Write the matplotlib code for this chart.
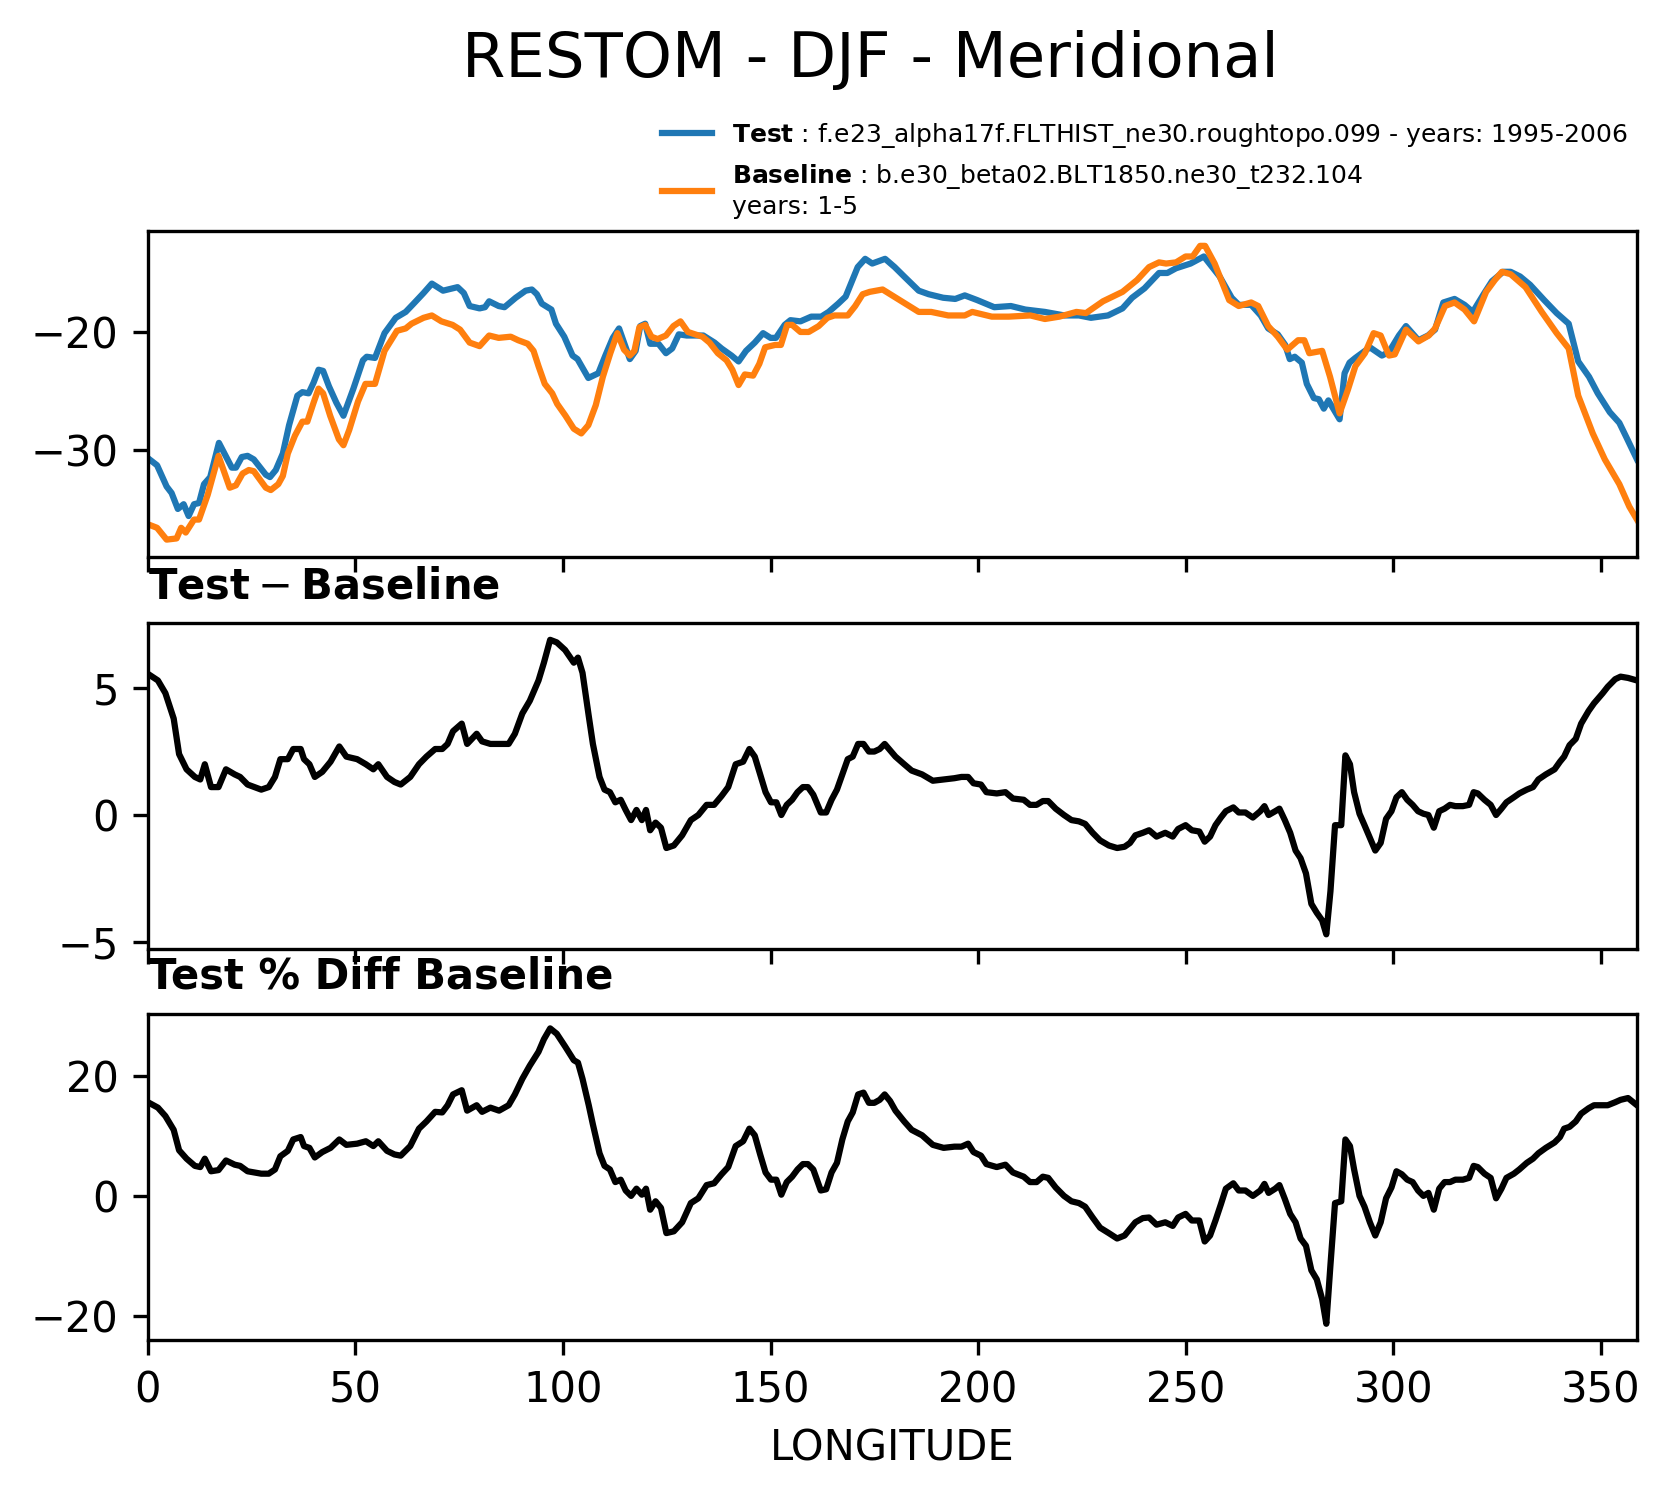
import matplotlib
matplotlib.use("Agg")
import matplotlib.pyplot as plt
import numpy as np

# --- data (longitude in degrees, RESTOM in W/m2) ---
test_lon = [0.0, 2.2, 4.5, 5.7, 7.2, 8.6, 9.8, 11.1, 12.3, 13.5, 15.0, 17.1, 20.2, 21.2, 22.6, 24.0, 25.5,
            28.4, 29.4, 30.8, 32.5, 34.0, 36.0, 37.2, 38.7, 39.9, 41.1, 42.2, 43.6, 45.4, 47.1, 49.5,
            51.8, 52.7, 54.7, 57.0, 59.7, 62.1, 64.0, 66.4, 68.4, 71.1, 74.6, 76.1, 77.5, 79.9, 81.2,
            82.2, 84.5, 85.9, 88.6, 91.0, 92.5, 93.7, 94.9, 97.2, 98.3, 100.3, 102.3, 103.5, 106.1,
            108.5, 110.2, 112.0, 113.5, 114.9, 116.1, 117.5, 118.6, 119.8, 121.0, 123.0, 124.8, 126.3,
            127.9, 129.8, 132.1, 133.8, 136.5, 138.2, 140.6, 142.3, 144.1, 146.2, 148.2, 150.0, 151.3,
            153.4, 154.8, 157.2, 159.8, 162.2, 164.0, 166.3, 168.1, 169.6, 171.0, 172.8, 174.5, 177.6,
            179.9, 182.2, 185.7, 188.1, 191.6, 194.5, 196.8, 199.8, 203.9, 207.9, 211.4, 216.1, 220.8,
            224.3, 227.2, 231.3, 234.8, 237.1, 240.1, 243.6, 245.6, 247.7, 251.2, 254.4, 258.2, 261.1,
            262.8, 265.8, 268.1, 269.9, 272.2, 274.0, 275.1, 276.3, 278.0, 279.2, 280.9, 282.1, 283.3,
            284.4, 287.1, 288.3, 289.5, 290.9, 294.4, 297.3, 299.0, 301.4, 303.1, 306.1, 308.4, 310.1,
            312.1, 314.8, 317.2, 319.2, 321.8, 323.8, 326.5, 328.3, 330.6, 333.0, 336.4, 339.4, 342.3,
            344.6, 347.2, 349.3, 352.2, 354.5, 356.3, 358.75]
test_val = [-30.7, -31.3, -33.1, -33.65, -35.0, -34.6, -35.6, -34.6, -34.5, -32.9, -32.3, -29.4, -31.5,
            -31.5, -30.6, -30.5, -30.8, -32.1, -32.3, -31.7, -30.3, -27.9, -25.4, -25.1, -25.2, -24.3,
            -23.2, -23.3, -24.6, -26.0, -27.1, -24.8, -22.4, -22.1, -22.2, -20.1, -18.8, -18.3, -17.6,
            -16.7, -15.9, -16.5, -16.2, -16.7, -17.8, -18.0, -17.9, -17.4, -17.8, -17.9, -17.1, -16.5,
            -16.4, -16.8, -17.6, -18.1, -19.3, -20.4, -22.0, -22.3, -23.9, -23.5, -22.0, -20.5, -19.7,
            -21.1, -22.3, -21.6, -19.5, -19.3, -21.0, -21.0, -21.8, -21.4, -20.2, -20.3, -20.3, -20.3,
            -20.9, -21.4, -22.0, -22.5, -21.6, -20.9, -20.1, -20.5, -20.5, -19.4, -19.0, -19.1, -18.7,
            -18.7, -18.3, -17.6, -17.0, -15.7, -14.5, -13.8, -14.2, -13.8, -14.5, -15.3, -16.5, -16.8,
            -17.1, -17.2, -16.9, -17.3, -17.9, -17.8, -18.1, -18.3, -18.6, -18.6, -18.8, -18.6, -18.0,
            -17.1, -16.3, -15.0, -15.0, -14.6, -14.2, -13.6, -15.3, -17.1, -17.7, -17.7, -18.6, -19.7,
            -20.2, -21.1, -22.3, -22.1, -22.6, -24.4, -25.6, -25.7, -26.5, -25.8, -27.4, -23.5, -22.6,
            -22.2, -21.3, -22.0, -21.7, -20.3, -19.5, -20.7, -20.3, -19.8, -17.5, -17.2, -17.7, -18.3,
            -16.8, -15.7, -14.9, -14.9, -15.3, -16.0, -17.3, -18.4, -19.3, -22.5, -23.8, -25.2, -26.8,
            -27.7, -29.0, -30.8]

base_lon = [0.0, 2.2, 4.5, 6.9, 8.0, 9.1, 11.1, 12.3, 14.4, 17.0, 19.7, 21.2, 22.8, 24.3, 25.5, 28.4,
            29.6, 31.4, 32.5, 33.7, 35.4, 37.2, 38.4, 39.9, 41.1, 42.2, 43.9, 46.0, 47.1, 48.5, 50.6,
            52.4, 54.7, 57.0, 60.0, 62.1, 63.5, 66.4, 68.4, 70.7, 73.4, 75.2, 77.5, 79.9, 82.2, 84.5,
            87.4, 89.2, 91.5, 92.9, 94.1, 95.6, 97.4, 98.6, 100.6, 102.6, 104.4, 106.1, 107.9, 109.6,
            111.4, 113.1, 114.7, 116.1, 117.2, 118.4, 119.8, 121.3, 122.8, 124.8, 126.6, 128.3, 130.1,
            131.8, 133.6, 135.3, 137.3, 139.4, 140.8, 142.3, 143.8, 145.8, 147.3, 148.7, 151.1, 152.5,
            154.0, 155.2, 157.2, 159.2, 161.6, 163.7, 165.4, 168.6, 170.4, 172.2, 173.9, 177.0, 181.1,
            185.7, 188.7, 192.8, 196.8, 198.6, 203.3, 207.4, 212.6, 216.1, 219.6, 223.7, 226.0, 230.1,
            234.8, 238.3, 241.2, 243.6, 245.3, 247.7, 250.0, 251.7, 253.5, 254.7, 257.0, 260.5, 262.8,
            265.8, 267.5, 269.9, 272.2, 274.5, 277.1, 278.6, 279.8, 282.9, 284.8, 287.1, 289.1, 290.9,
            293.2, 295.3, 297.0, 299.0, 300.4, 303.1, 306.1, 308.6, 310.1, 312.5, 314.8, 317.2, 319.5,
            322.4, 324.5, 326.2, 328.3, 331.9, 335.8, 339.4, 342.3, 344.6, 348.1, 351.0, 354.5, 356.9,
            358.75]
base_val = [-36.3, -36.6, -37.6, -37.5, -36.6, -37.0, -35.9, -35.9, -33.8, -30.5, -33.2, -33.0, -32.0,
            -31.7, -31.8, -33.2, -33.4, -32.9, -32.2, -30.3, -28.8, -27.6, -27.6, -26.0, -24.8, -25.2,
            -27.1, -29.1, -29.6, -28.3, -25.9, -24.4, -24.4, -21.6, -19.9, -19.7, -19.3, -18.8, -18.6,
            -19.1, -19.4, -19.8, -20.9, -21.2, -20.3, -20.5, -20.4, -20.7, -21.0, -21.6, -22.9, -24.4,
            -25.2, -26.1, -27.1, -28.2, -28.6, -27.9, -26.2, -23.8, -21.8, -20.1, -21.5, -22.0, -21.6,
            -19.6, -19.4, -20.4, -20.6, -20.3, -19.5, -19.1, -20.0, -20.2, -20.4, -20.9, -21.8, -22.4,
            -23.2, -24.5, -23.6, -23.7, -22.7, -21.3, -21.1, -21.1, -19.4, -19.4, -20.0, -20.0, -19.5,
            -18.8, -18.6, -18.6, -17.8, -16.8, -16.6, -16.4, -17.3, -18.3, -18.3, -18.6, -18.6, -18.3,
            -18.7, -18.7, -18.6, -18.9, -18.7, -18.3, -18.4, -17.4, -16.6, -15.6, -14.5, -14.1, -14.2,
            -14.1, -13.6, -13.6, -12.7, -12.7, -14.2, -17.3, -17.8, -17.5, -17.8, -19.5, -20.4, -21.5,
            -20.7, -20.7, -21.8, -21.6, -23.8, -26.9, -24.9, -22.9, -21.8, -20.1, -20.3, -22.0, -21.9,
            -19.8, -20.8, -20.3, -19.7, -17.8, -17.5, -18.1, -19.1, -16.6, -15.6, -14.9, -15.1, -16.2,
            -18.3, -20.1, -21.4, -25.4, -28.6, -30.8, -32.9, -34.8, -35.9]

diff_lon = [0.0, 2.4, 4.2, 6.2, 7.5, 9.3, 11.3, 12.6, 13.7, 15.2, 17.0, 18.8, 20.9, 22.2, 24.0, 27.3,
            29.1, 30.6, 31.9, 33.7, 35.0, 36.8, 37.6, 38.9, 40.2, 42.0, 44.0, 46.1, 47.8, 50.4, 52.5,
            54.3, 55.5, 57.6, 59.4, 60.9, 63.2, 65.3, 67.1, 69.2, 70.9, 72.2, 73.5, 75.6, 76.9, 79.2,
            80.5, 82.5, 84.6, 86.9, 88.4, 90.2, 92.0, 94.1, 95.4, 96.9, 98.5, 100.5, 102.6, 103.6,
            104.7, 106.2, 107.2, 108.8, 110.0, 111.3, 112.6, 113.9, 115.1, 116.4, 117.7, 119.0, 120.0,
            121.0, 122.3, 123.6, 124.9, 126.7, 128.7, 130.8, 132.6, 134.6, 136.4, 138.2, 139.8, 141.6,
            143.4, 144.9, 146.2, 147.5, 148.8, 150.1, 151.4, 152.6, 153.9, 155.2, 156.5, 157.8, 159.0,
            160.3, 162.1, 163.4, 164.7, 166.0, 167.3, 168.6, 169.8, 171.1, 172.4, 173.7, 175.0, 176.3,
            177.5, 178.8, 180.1, 182.2, 184.0, 186.5, 189.1, 191.7, 194.3, 196.0, 197.6, 198.9, 200.7,
            202.0, 204.5, 206.6, 208.4, 211.0, 212.5, 214.1, 215.6, 216.9, 218.7, 220.7, 222.5, 224.3,
            225.8, 227.6, 229.4, 231.5, 233.5, 235.3, 236.6, 237.9, 239.7, 241.2, 243.0, 245.1, 246.9,
            248.2, 250.0, 251.5, 253.3, 254.6, 255.9, 257.2, 258.5, 259.7, 261.5, 262.8, 264.4, 266.2,
            268.0, 269.0, 270.0, 271.6, 272.6, 273.9, 275.2, 276.5, 277.7, 279.0, 280.3, 281.6, 282.9,
            283.9, 284.9, 286.0, 287.5, 288.5, 289.6, 290.6, 291.9, 293.1, 294.4, 295.7, 297.0, 298.3,
            299.6, 300.8, 302.1, 303.4, 304.7, 306.0, 307.3, 308.5, 309.8, 311.1, 312.4, 313.7, 315.0,
            316.8, 318.3, 319.4, 320.4, 322.0, 323.5, 324.8, 326.1, 327.3, 329.1, 330.4, 332.2, 333.7,
            335.0, 336.8, 338.9, 340.2, 341.2, 342.5, 344.0, 345.3, 347.1, 348.4, 350.5, 351.7, 353.5,
            354.8, 356.6, 358.75]
diff_val = [5.56, 5.3, 4.8, 3.8, 2.4, 1.8, 1.5, 1.4, 2.0, 1.1, 1.1, 1.8, 1.6, 1.5, 1.2, 1.0, 1.1, 1.5,
            2.2, 2.2, 2.6, 2.6, 2.2, 2.0, 1.5, 1.7, 2.1, 2.7, 2.3, 2.2, 2.0, 1.8, 2.0, 1.5, 1.3, 1.2,
            1.5, 2.0, 2.3, 2.6, 2.6, 2.8, 3.3, 3.6, 2.8, 3.2, 2.9, 2.8, 2.8, 2.8, 3.2, 4.0, 4.5, 5.3,
            6.0, 6.9, 6.8, 6.5, 6.0, 6.2, 5.6, 3.9, 2.8, 1.5, 1.0, 0.9, 0.5, 0.6, 0.2, -0.2, 0.2, -0.2,
            0.2, -0.6, -0.3, -0.5, -1.3, -1.2, -0.8, -0.2, 0.0, 0.4, 0.4, 0.75, 1.1, 2.0, 2.1, 2.6, 2.3,
            1.6, 0.9, 0.5, 0.5, 0.0, 0.4, 0.6, 0.9, 1.1, 1.1, 0.8, 0.1, 0.1, 0.6, 1.0, 1.6, 2.2, 2.3,
            2.8, 2.8, 2.5, 2.5, 2.6, 2.8, 2.55, 2.3, 2.0, 1.75, 1.6, 1.35, 1.4, 1.45, 1.5, 1.5, 1.25,
            1.2, 0.9, 0.85, 0.9, 0.65, 0.6, 0.4, 0.4, 0.55, 0.55, 0.25, 0.0, -0.2, -0.25, -0.35, -0.7,
            -1.0, -1.2, -1.3, -1.25, -1.1, -0.8, -0.7, -0.6, -0.85, -0.7, -0.85, -0.55, -0.4, -0.6,
            -0.65, -1.05, -0.85, -0.4, -0.1, 0.15, 0.3, 0.1, 0.1, -0.1, 0.15, 0.35, 0.0, 0.15, 0.25,
            -0.2, -0.7, -1.4, -1.7, -2.3, -3.5, -3.85, -4.15, -4.7, -3.0, -0.4, -0.4, 2.35, 2.0, 0.9,
            0.05, -0.4, -0.9, -1.4, -1.1, -0.15, 0.15, 0.7, 0.9, 0.6, 0.4, 0.15, 0.05, 0.0, -0.5,
            0.15, 0.25, 0.4, 0.35, 0.35, 0.4, 0.9, 0.85, 0.6, 0.4, 0.0, 0.25, 0.5, 0.7, 0.85, 1.0, 1.1,
            1.4, 1.6, 1.8, 2.1, 2.3, 2.75, 3.0, 3.6, 4.1, 4.4, 4.8, 5.05, 5.35, 5.45, 5.4, 5.3]
pct_val = [15.6, 14.7, 13.3, 11.0, 7.6, 6.2, 5.0, 4.8, 6.2, 4.1, 4.3, 5.9, 5.2, 5.0, 4.1, 3.7, 3.7,
           4.4, 6.6, 7.5, 9.4, 9.8, 8.3, 8.0, 6.4, 7.3, 8.0, 9.4, 8.5, 8.7, 9.1, 8.3, 9.1, 7.5, 6.9,
           6.7, 8.3, 11.2, 12.4, 14.0, 13.9, 15.1, 16.9, 17.6, 14.2, 15.1, 14.0, 14.7, 14.2, 15.1,
           16.9, 19.5, 21.7, 24.0, 26.1, 27.9, 27.0, 24.9, 22.6, 22.2, 19.5, 15.1, 11.9, 7.1, 5.0,
           4.4, 2.3, 2.7, 0.9, 0.0, 1.2, 0.2, 1.2, -2.3, -0.9, -2.0, -6.2, -5.9, -4.4, -1.2, -0.4,
           1.8, 2.1, 3.6, 4.8, 8.3, 9.1, 11.2, 10.1, 6.9, 3.9, 2.7, 2.7, 0.2, 2.3, 3.2, 4.4, 5.3, 5.3,
           4.4, 0.9, 1.1, 3.9, 5.5, 9.4, 12.4, 13.9, 16.9, 17.2, 15.5, 15.5, 16.0, 16.9, 15.8, 14.2,
           12.4, 11.0, 10.1, 8.5, 8.0, 8.2, 8.2, 8.7, 7.3, 6.7, 5.3, 4.8, 5.2, 3.9, 3.2, 2.3, 2.3, 3.2,
           3.0, 1.4, 0.0, -0.9, -1.2, -1.8, -3.6, -5.3, -6.2, -7.1, -6.6, -5.5, -4.4, -3.7, -3.6,
           -4.8, -4.4, -5.0, -3.6, -3.0, -4.1, -4.1, -7.6, -6.6, -4.1, -1.4, 1.2, 2.1, 0.9, 0.9, 0.0,
           0.9, 2.0, 0.5, 1.2, 1.8, -0.5, -3.0, -4.4, -7.1, -8.3, -12.4, -13.9, -17.2, -21.3, -11.5,
           -1.2, -0.9, 9.4, 8.3, 4.4, 0.0, -1.8, -4.4, -6.6, -4.4, -0.4, 1.4, 4.1, 3.6, 2.7, 2.3, 0.9,
           0.0, 0.5, -2.3, 1.2, 2.3, 2.3, 2.7, 2.7, 3.0, 5.0, 4.8, 3.7, 3.0, -0.4, 1.2, 3.0, 3.7, 4.4,
           5.5, 6.2, 7.1, 8.0, 8.9, 9.8, 11.2, 11.5, 12.4, 13.7, 14.6, 15.1, 15.1, 15.1, 15.6, 16.0,
           16.3, 15.1]

lon_ticks = [0, 50, 100, 150, 200, 250, 300, 350]

test_name = "f.e23_alpha17f.FLTHIST_ne30.roughtopo.099 - years: 1995-2006"
base_name = "b.e30_beta02.BLT1850.ne30_t232.104\nyears: 1-5"

plt.rcParams["font.size"] = 10

fig = plt.figure(figsize=(1668 / 300, 1496 / 300), dpi=300)

left, width, height = 0.0887, 0.8927, 0.2179
ax1 = fig.add_axes([left, 0.6277, width, height])
ax2 = fig.add_axes([left, 0.3656, width, height])
ax3 = fig.add_axes([left, 0.1043, width, height])

# top: test and baseline
ax1.plot(test_lon, test_val, color="tab:blue", lw=1.5, label=r"$\bf{Test}$ : " + test_name)
ax1.plot(base_lon, base_val, color="tab:orange", lw=1.5, label=r"$\bf{Baseline}$ : " + base_name)
ax1.set_ylim(-39.07, -11.44)
ax1.set_yticks([-30, -20])

# middle: difference
ax2.plot(diff_lon, diff_val, color="black", lw=1.5)
ax2.set_ylim(-5.28, 7.56)
ax2.set_yticks([-5, 0, 5])
ax2.set_title("Test\u2009$-$\u2009Baseline", loc="left", fontweight="bold", fontsize=10)

# bottom: percent difference
ax3.plot(diff_lon, pct_val, color="black", lw=1.5)
ax3.set_ylim(-24.0, 30.3)
ax3.set_yticks([-20, 0, 20])
ax3.set_title("Test % Diff Baseline", loc="left", fontweight="bold", fontsize=10)
ax3.set_xlabel("LONGITUDE")

for ax in (ax1, ax2, ax3):
    ax.set_xlim(0, 358.75)
    ax.set_xticks(lon_ticks)
for ax in (ax1, ax2):
    ax.tick_params(labelbottom=False)

fig.legend(loc="upper left", bbox_to_anchor=(0.391, 0.926), frameon=False,
           fontsize=6, borderaxespad=0)

fig.text(0.5216, 0.960, "RESTOM - DJF - Meridional", ha="center", va="center", fontsize=15)

fig.savefig("out.png", dpi=300)
